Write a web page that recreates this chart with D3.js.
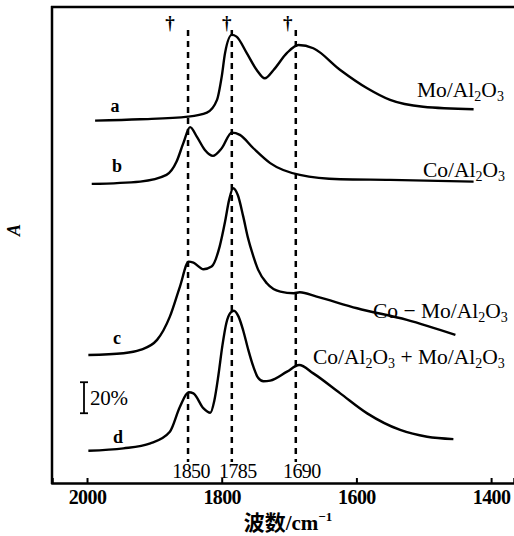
<!DOCTYPE html>
<html><head><meta charset="utf-8">
<script src="https://cdn.jsdelivr.net/npm/d3@7"></script>
<style>body{margin:0;background:#fff}svg{display:block}</style>
</head><body><svg id="c" width="514" height="536"></svg>
<script>
// wavenumbers (cm^-1) and relative absorbance (%) for each spectrum
const waveA = [1988,1921,1850,1822,1807,1800,1795,1785,1778,1763,1748,1736,1723,1703,1686,1664,1624,1584,1550,1501,1426];
const absA  = [0,0.9,2.6,5.2,13.4,28.4,43.7,55.3,54.2,43.7,32.7,27.3,32.7,43.7,48.8,46.7,32.7,20.9,13.4,9.0,7.4];
const waveB = [1993,1921,1882,1867,1857,1847,1837,1825,1813,1800,1785,1773,1753,1728,1684,1624,1550,1426];
const absB  = [0,1.5,5.8,14.4,26.3,36.6,30.5,21.9,18.1,23.0,33.1,31.6,23.0,13.4,5.8,3.0,2.6,1.5];
const waveC = [1998,1946,1921,1896,1877,1862,1849,1842,1827,1815,1803,1795,1789,1783,1776,1768,1761,1753,1746,1733,1713,1693,1684,1659,1599,1525,1453];
const absC  = [0,1.1,3.2,9.7,24.7,44.1,60.2,59.5,55.3,57.0,70.0,86.0,100.0,107.5,103.0,89.2,75.5,63.6,55.0,46.2,40.8,39.8,40.4,37.6,30.1,22.6,12.9];
const waveD = [1998,1946,1906,1877,1862,1849,1842,1827,1817,1811,1805,1799,1793,1787,1782,1775,1768,1761,1753,1746,1738,1728,1703,1685,1664,1624,1584,1535,1495,1456];
const absD  = [0,1.5,4.8,12.3,28.4,37.7,37.0,27.3,24.5,32.3,48.4,67.8,82.6,89.0,90.3,86.5,77.4,65.8,54.2,47.1,44.8,45.2,51.0,55.3,49.9,37.0,24.1,13.4,9.0,7.5];
const seriesNames = ["a","b","c","d"];
const sampleNames = ["Mo/Al2O3","Co/Al2O3","Co − Mo/Al2O3","Co/Al2O3 + Mo/Al2O3"];
const offsets = [233.7,192.9,82.6,20.8];
const peakLines = [1850,1785,1690];
const xTicks = [2000,1800,1600,1400];
const scaleBar = [45,65]; // 20 %

const svg = d3.select("#c");
const x = d3.scaleLinear().domain([2052,1366]).range([52,514]);
const y = d3.scaleLinear().domain([0,307]).range([483,7]);
const serif = "'Liberation Serif','DejaVu Serif',serif";

const waves=[waveA,waveB,waveC,waveD], abs=[absA,absB,absC,absD];
const line = d3.line().x(d=>x(d[0])).y(d=>y(d[1])).curve(d3.curveMonotoneX);

// frame
svg.append("line").attr("x1",52).attr("x2",52).attr("y1",6).attr("y2",484).attr("stroke","#000").attr("stroke-width",2.5);
svg.append("line").attr("x1",51).attr("x2",514).attr("y1",7).attr("y2",7).attr("stroke","#000").attr("stroke-width",2.5);

// x axis
const ax = svg.append("g").attr("transform","translate(0,483)")
  .call(d3.axisBottom(x).tickValues(xTicks).tickSize(-5).tickPadding(7).tickFormat(d3.format("d")));
ax.select(".domain").attr("stroke-width",2.5);
ax.selectAll(".tick line").attr("stroke-width",2);
ax.selectAll("text").attr("font-family",serif).attr("font-size",20).attr("font-weight","bold").attr("letter-spacing",-0.6).attr("fill","#000");

// dashed peak lines
svg.selectAll(".pk").data(peakLines).enter().append("line")
  .attr("x1",d=>x(d)).attr("x2",d=>x(d)).attr("y1",30).attr("y2",462)
  .attr("stroke","#000").attr("stroke-width",2.5).attr("stroke-dasharray","6,5");
svg.selectAll(".pkl").data(peakLines).enter().append("text")
  .attr("x",(d,i)=>x(d)+[3,6,6][i]).attr("y",478).attr("text-anchor","middle")
  .attr("font-family",serif).attr("font-size",20).attr("letter-spacing",-0.6).text(d=>d);
svg.selectAll(".dg").data(peakLines).enter().append("text")
  .attr("x",(d,i)=>x(d)+[-18,-5,-8][i]).attr("y",29).attr("text-anchor","middle")
  .attr("font-family",serif).attr("font-size",19).attr("font-weight","bold").text("†");

// spectra
waves.forEach((w,i)=>{
  const pts = w.map((v,j)=>[v, abs[i][j]+offsets[i]]);
  svg.append("path").attr("d",line(pts)).attr("fill","none").attr("stroke","#000").attr("stroke-width",2.4);
});

// series letters
const letterPos=[[115,112],[117,172],[117,344],[118,443]];
seriesNames.forEach((s,i)=>svg.append("text").attr("x",letterPos[i][0]).attr("y",letterPos[i][1])
  .attr("font-family",serif).attr("font-size",18).attr("font-weight","bold").attr("text-anchor","middle").text(s));

// sample labels with subscripts
const labelPos=[[417,97],[423,177],[373,318],[313,364]];
sampleNames.forEach((s,i)=>{
  const t=svg.append("text").attr("x",labelPos[i][0]).attr("y",labelPos[i][1])
    .attr("font-family",serif).attr("font-size",21.5).attr("letter-spacing",0);
  let prevSub=false;
  s.split(/(\d)/).forEach(p=>{
    if(!p.length) return;
    if(/\d/.test(p)){ t.append("tspan").attr("font-size",14).attr("dy",prevSub?0:4).text(p); prevSub=true; }
    else { t.append("tspan").attr("dy",prevSub?-4:0).text(p); prevSub=false; }
  });
});

// scale bar
const bx=84;
svg.append("line").attr("x1",bx).attr("x2",bx).attr("y1",y(scaleBar[1])).attr("y2",y(scaleBar[0])).attr("stroke","#000").attr("stroke-width",1.8);
[scaleBar[0],scaleBar[1]].forEach(v=>svg.append("line").attr("x1",bx-4).attr("x2",bx+4).attr("y1",y(v)).attr("y2",y(v)).attr("stroke","#000").attr("stroke-width",1.8));
svg.append("text").attr("x",bx+6).attr("y",y((scaleBar[0]+scaleBar[1])/2)+7).attr("font-family",serif).attr("font-size",21).attr("letter-spacing",-0.3).text("20%");

// axis titles
svg.append("text").attr("transform","translate(20,230) rotate(-90)").attr("text-anchor","middle")
  .attr("font-family",serif).attr("font-style","italic").attr("font-weight","bold").attr("font-size",18).text("A");
const xt=svg.append("text").attr("x",288).attr("y",530).attr("text-anchor","middle").attr("font-weight","bold").attr("font-size",21);
xt.append("tspan").attr("font-family","'Noto Sans CJK SC',sans-serif").text("波数");
xt.append("tspan").attr("font-family",serif).text("/cm");
xt.append("tspan").attr("font-family",serif).attr("font-size",13).attr("dy",-9).text("−1");
</script></body></html>
